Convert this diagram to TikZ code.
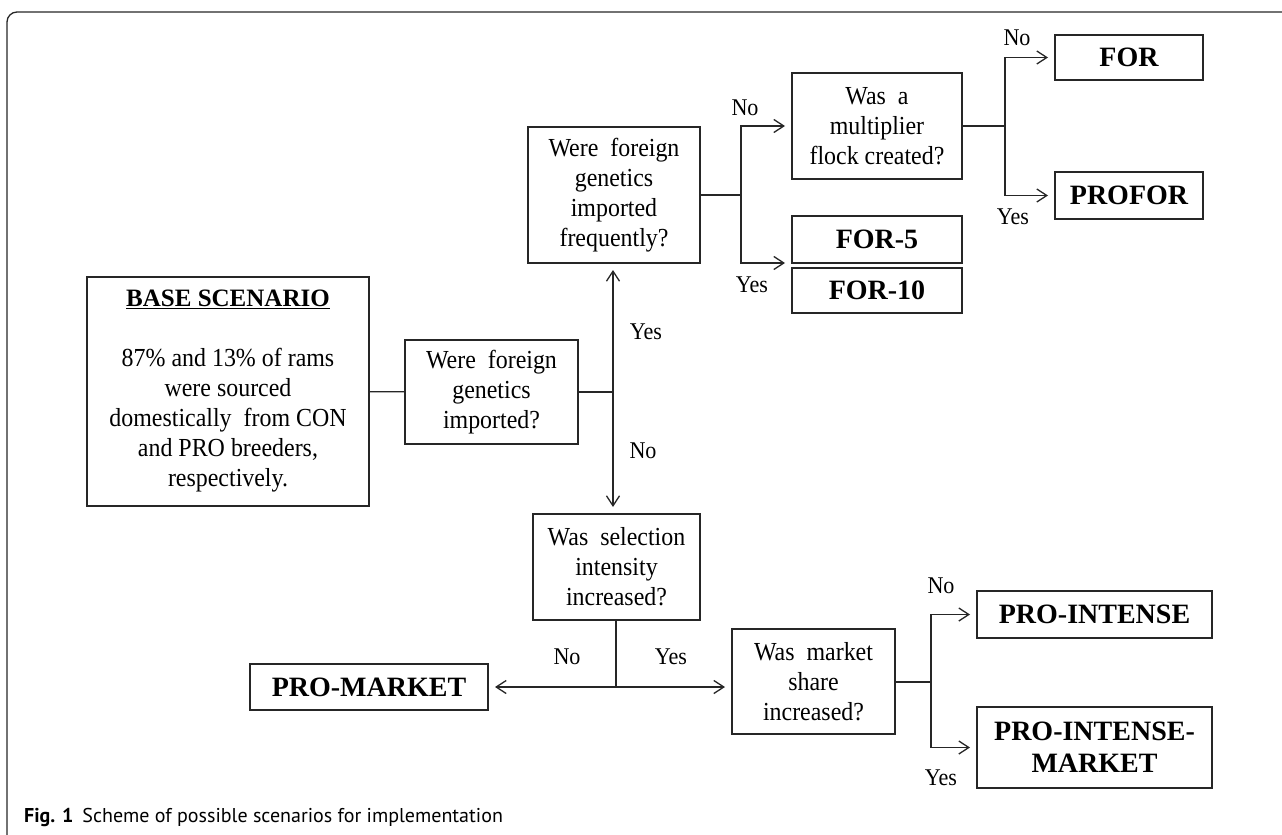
\documentclass[tikz,border=0pt]{standalone}
\usepackage{fontspec}
\setmainfont{Liberation Serif}
\newfontfamily\qfont{Liberation Serif}[FakeStretch=0.92]
\newfontfamily\capfont{PT Sans}
\usetikzlibrary{arrows.meta}
\definecolor{ink}{HTML}{262626}
\tikzset{
  >={Straight Barb[length=10pt,width=13pt]},
  box/.style={draw=ink,line width=1.3pt,inner sep=0pt,outer sep=0pt,align=center,font=\qfont\fontsize{26}{30}\selectfont},
  rbox/.style={box,font=\rmfamily\fontsize{28}{32}\selectfont\bfseries},
  lab/.style={font=\qfont\fontsize{24}{26}\selectfont,inner sep=0pt},
  conn/.style={draw=ink,line width=1.3pt},
  arr/.style={conn,->,shorten >=7pt},
}
\begin{document}
\begin{tikzpicture}[x=1pt,y=-1pt]
\useasboundingbox (0,0) rectangle (1282,835);
\draw[ink,line width=1.3pt,rounded corners=10pt] (7,835) -- (7,12) -- (1282,12);
% questions
\node[box,minimum width=282pt,minimum height=229pt] (base) at (228,391.5) {{\rmfamily\fontsize{25}{30}\selectfont\bfseries\underline{BASE SCENARIO}}\\[30pt]87\% and 13\% of rams\\were sourced\\domestically\ \ from CON\\and PRO breeders,\\respectively.};
\node[box,minimum width=173pt,minimum height=104pt] (imp) at (491.5,392) {Were\ \ foreign\\genetics\\imported?};
\node[box,minimum width=172pt,minimum height=136pt] (freq) at (614,195) {Were\ \ foreign\\genetics\\imported\\frequently?};
\node[box,minimum width=170pt,minimum height=106pt] (mult) at (877,126) {Was\ \ a\\multiplier\\flock created?};
\node[box,minimum width=167pt,minimum height=106pt] (sel) at (616.5,567) {Was\ \ selection\\intensity\\increased?};
\node[box,minimum width=163pt,minimum height=105pt] (mkt) at (813.5,681.5) {Was\ \ market\\share\\increased?};
% scenarios
\node[rbox,minimum width=170pt,minimum height=47pt] (for5) at (877,239.5) {FOR-5};
\node[rbox,minimum width=170pt,minimum height=45pt] (for10) at (877,290.5) {FOR-10};
\node[rbox,minimum width=148pt,minimum height=45pt] (for) at (1129,57.5) {FOR};
\node[rbox,minimum width=148pt,minimum height=47pt] (profor) at (1129,195.5) {PROFOR};
\node[rbox,minimum width=238pt,minimum height=46pt] (promkt) at (369,687) {PRO-MARKET};
\node[rbox,minimum width=235pt,minimum height=47pt] (proint) at (1094.5,614.5) {PRO-INTENSE};
\node[rbox,minimum width=235pt,minimum height=81pt] (prointmkt) at (1094.5,747.5) {PRO-INTENSE-\\MARKET};
% branch points
\coordinate (j1) at (613,392);
\coordinate (j2) at (741,195);
\coordinate (j3) at (1005,126);
\coordinate (j4) at (616,687);
\coordinate (j5) at (931,682);
\draw[conn] (base) -- (imp); \draw[conn] (imp) -- (j1);
\draw[arr] (j1) -- (j1 |- freq.south); \draw[arr] (j1) -- (j1 |- sel.north);
\draw[conn] (freq) -- (j2); \draw[arr] (j2) |- (mult.west); \draw[arr] (j2) |- (for5.south west);
\draw[conn] (mult) -- (j3); \draw[arr] (j3) |- (for.west); \draw[arr] (j3) |- (profor.west);
\draw[conn] (sel.south -| j4) -- (j4); \draw[arr] (j4) -- (promkt.east); \draw[arr] (j4) -- (j4 -| mkt.west);
\draw[conn] (mkt.east |- j5) -- (j5); \draw[arr] (j5) |- (proint.west); \draw[arr] (j5) |- (prointmkt.west);
% answers
\node[lab] (y1) at (646,332) {Yes}; \node[lab] (n1) at (643,451) {No};
\node[lab] (n2) at (745,108) {No}; \node[lab] (y2) at (752,285) {Yes};
\node[lab] (n3) at (1017,38) {No}; \node[lab] (y3) at (1013,217) {Yes};
\node[lab] (n4) at (567,657) {No}; \node[lab] (y4) at (671,657) {Yes};
\node[lab] (n5) at (941,586) {No}; \node[lab] (y5) at (941,778) {Yes};
% caption
\node[anchor=west,inner sep=0pt,font=\capfont\fontsize{20}{24}\selectfont] (cap) at (24,817) {\textbf{Fig. 1}\hspace{9pt}Scheme of possible scenarios for implementation};
\end{tikzpicture}
\end{document}
